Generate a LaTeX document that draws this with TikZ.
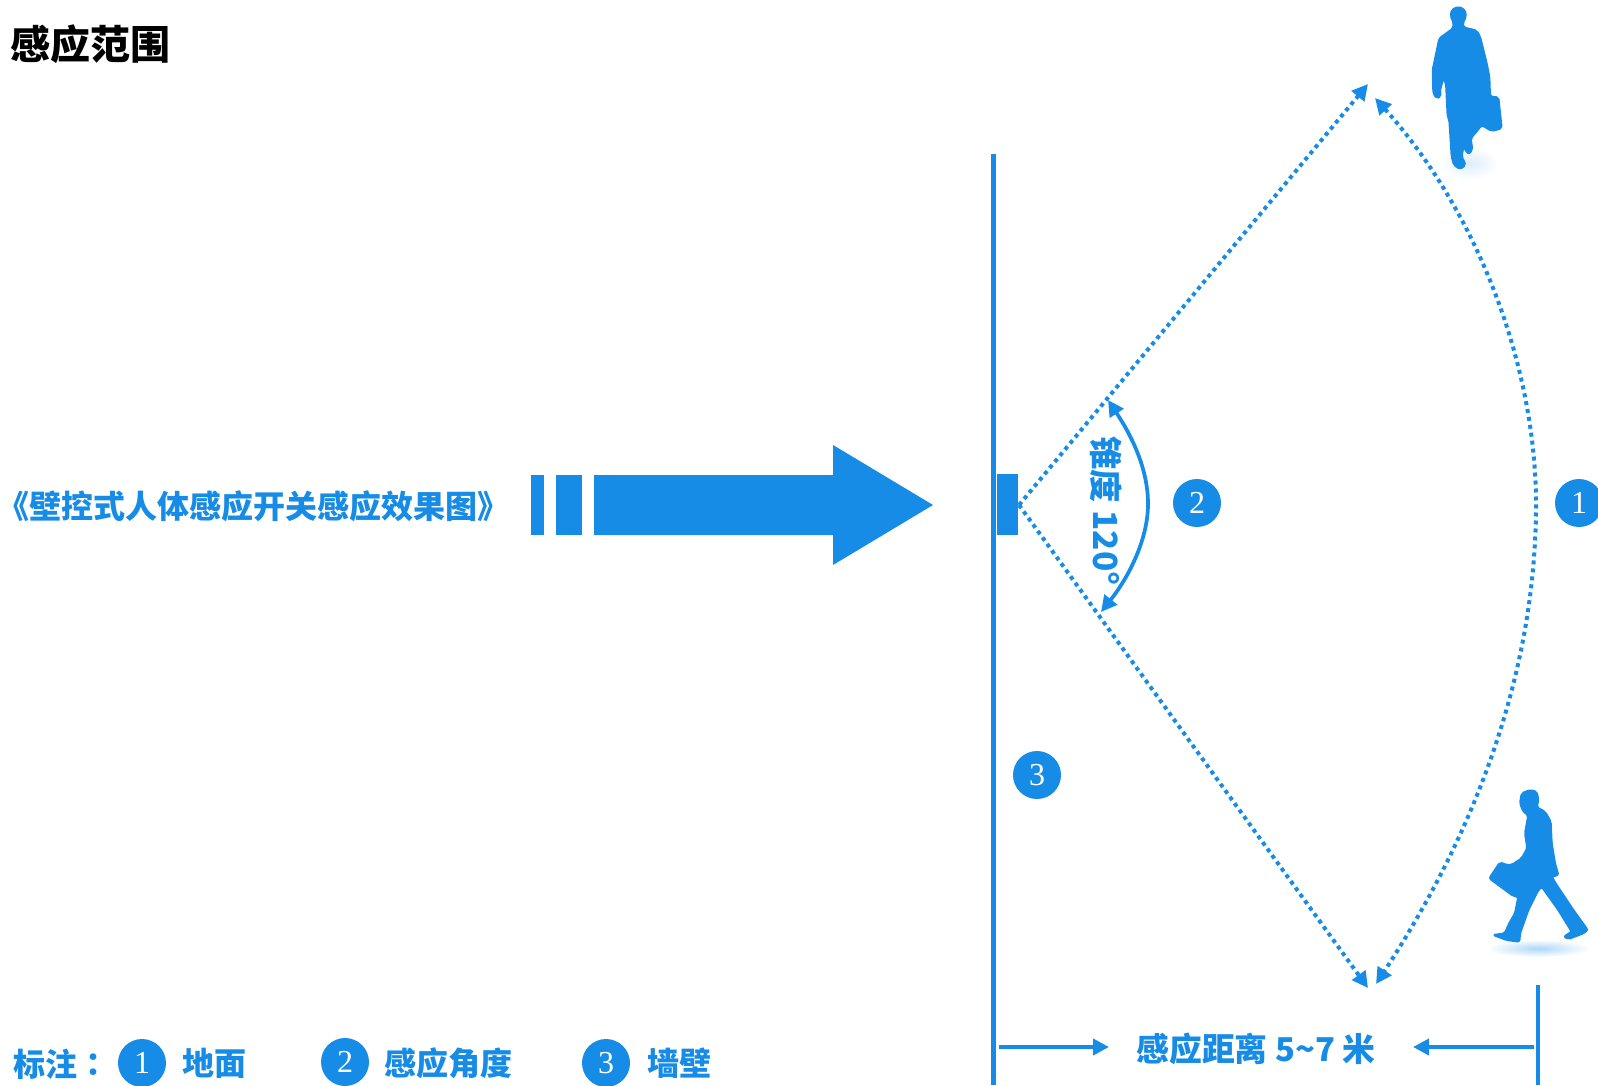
\documentclass[tikz,border=0pt]{standalone}
\usepackage{fontspec}
\usepackage{xcolor}
\usetikzlibrary{arrows.meta}
\newfontfamily\cjk{Noto Sans CJK SC}
\newfontfamily\cjktc{Noto Sans CJK TC}
\newfontfamily\numfont{Liberation Serif}
\definecolor{sensorblue}{HTML}{178CE6}
\tikzset{>={Triangle[length=12pt,width=12pt]}}
\tikzset{
	caption/.style={inner sep=0pt,font=\cjk\bfseries\fontsize{24}{28}\selectfont,text=sensorblue},
	heading/.style={inner sep=0pt,font=\cjk\bfseries\fontsize{30}{34}\selectfont,text=black},
	numdot/.style={circle,fill=sensorblue,minimum size=36pt,inner sep=0pt,text=white,font=\numfont\fontsize{24}{24}\selectfont},
	solidbar/.style={fill=sensorblue,draw=none},
	wall/.style={draw=sensorblue,line width=3.6pt},
	dotline/.style={draw=sensorblue,line width=3pt,dash pattern=on 3pt off 3pt},
	measure/.style={draw=sensorblue,line width=2.8pt,->},
	figure/.style={fill=sensorblue,draw=sensorblue,line width=1.5pt,line join=round,rounded corners=1.5pt},
}
\begin{document}
\begin{tikzpicture}[x=.75pt,y=-.75pt]
	\clip[use as bounding box] (0,0) rectangle (1598,1085);

	\node[heading,anchor=west] (title) at (10,44) {感应范围};
	\node[caption,anchor=west] (effect) at (-3,506) {《壁控式人体感应开关感应效果图》};

	\fill[solidbar] (531,475) rectangle (544,535);
	\fill[solidbar] (556,475) rectangle (582,535);
	\fill[solidbar] (594,475) -- (833,475) -- (833,445) -- (933,505) -- (833,565) -- (833,535) -- (594,535) -- cycle;

	\coordinate (walltop) at (993.5,154);
	\coordinate (wallend) at (993.5,1085);
	\coordinate (marktop) at (1538,985);
	\coordinate (markend) at (1538,1085);
	\draw[wall] (walltop) -- (wallend);
	\draw[wall] (marktop) -- (markend);
	\node[solidbar,rectangle,minimum width=15.75pt,minimum height=45.75pt,inner sep=0pt] (sensor) at (1007.5,504.5) {};

	\coordinate (apex) at (1019,505);
	\coordinate (uppertip) at (1368,84);
	\coordinate (lowertip) at (1368,988);
	\coordinate (arcupper) at (1375,98);
	\coordinate (arcmid) at (1536,504);
	\coordinate (arclower) at (1376,984);
	\draw[dotline,->] (apex) -- (uppertip);
	\draw[dotline,->] (apex) -- (lowertip);
	\draw[dotline,<->] (arcupper) .. controls (1480,215) and (1536,370) .. (arcmid) .. controls (1536,680) and (1470,840) .. (arclower);

	\coordinate (coneupper) at (1108,400);
	\coordinate (conelower) at (1101,612);
	\draw[measure,<->] (coneupper) .. controls (1133,438) and (1148,470) .. (1148,504) .. controls (1148,540) and (1128,578) .. (conelower);
	\node[caption,rotate=-90,font=\cjk\bfseries\fontsize{25}{28}\selectfont] (cone) at (1106,511) {锥度 120°};

	\node[numdot] (dotb) at (1197,503) {2};
	\node[numdot] (dota) at (1579,503) {1};
	\node[numdot] (dotc) at (1037,775) {3};

	\node[caption,font=\cjk\bfseries\fontsize{24.6}{28}\selectfont] (range) at (1256,1049) {感应距离 5\char"7E 7 米};
	\coordinate (leftfrom) at (999,1047);
	\coordinate (leftto) at (1109,1047);
	\coordinate (rightfrom) at (1534,1047);
	\coordinate (rightto) at (1413,1047);
	\draw[measure] (leftfrom) -- (leftto);
	\draw[measure] (rightfrom) -- (rightto);

	\node[caption,anchor=west] (legend) at (13,1064) {标注{\cjktc\bfseries ：}};
	\node[numdot] (keya) at (142,1063) {1};
	\node[caption,anchor=west] (ground) at (182,1063) {地面};
	\node[numdot] (keyb) at (345,1062) {2};
	\node[caption,anchor=west] (angle) at (384,1063) {感应角度};
	\node[numdot] (keyc) at (606,1063) {3};
	\node[caption,anchor=west] (side) at (647,1063) {墙壁};

	\begin{scope}[shift={(1380,0)},scale=1/3]
		\shade[inner color=sensorblue!15,outer color=white] (270,490) ellipse (85 and 50);
		\path[figure] (235,20) -- (255,30) -- (258,50) -- (248,70) -- (250,82) -- (290,92) -- (300,110) -- (320,190) -- (328,230) -- (330,290) -- (355,292) -- (365,385) -- (335,393) -- (305,375) -- (285,400) -- (272,415) -- (277,450) -- (265,462) -- (250,440) -- (245,470) -- (257,495) -- (240,507) -- (222,495) -- (215,470) -- (208,360) -- (203,350) -- (198,250) -- (190,235) -- (180,270) -- (182,290) -- (170,295) -- (160,280) -- (158,210) -- (178,115) -- (220,85) -- (220,65) -- (212,50) -- (215,30) -- cycle;
	\end{scope}
	\begin{scope}[shift={(1440,770)},scale=1/3]
		\shade[inner color=sensorblue!35,outer color=white] (295,535) ellipse (155 and 26);
		\path[figure] (245,70) -- (270,60) -- (290,65) -- (295,90) -- (290,112) -- (315,125) -- (332,155) -- (335,220) -- (345,280) -- (355,315) -- (335,320) -- (350,345) -- (400,420) -- (443,480) -- (430,490) -- (385,507) -- (372,500) -- (395,485) -- (355,420) -- (305,350) -- (295,360) -- (265,420) -- (240,490) -- (238,515) -- (200,510) -- (160,495) -- (195,490) -- (205,465) -- (225,430) -- (235,380) -- (220,378) -- (148,325) -- (180,277) -- (200,285) -- (215,285) -- (245,265) -- (262,235) -- (255,190) -- (265,135) -- (250,125) -- (240,100) -- cycle;
	\end{scope}
\end{tikzpicture}
\end{document}
